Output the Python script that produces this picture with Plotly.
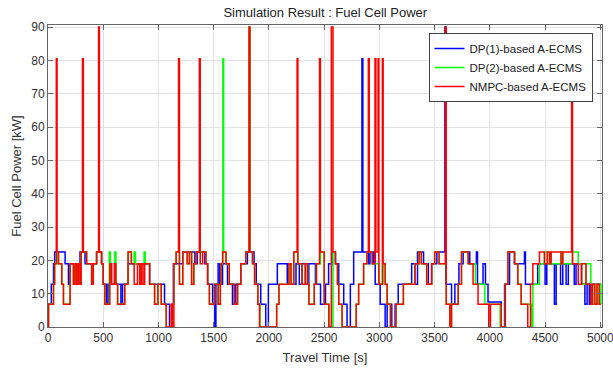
import plotly.graph_objects as go

# ---- data: step breakpoints (time [s], power [kW]) ----
dp1_t = [0, 30, 50, 60, 155, 185, 200, 290, 335, 440, 485, 500, 530, 545, 560, 575, 660, 675, 725,
         920, 1055, 1100, 1125, 1135, 1220, 1330, 1350, 1420, 1445, 1490, 1510, 1520, 1540, 1555,
         1580, 1625, 1670, 1700, 1745, 1805, 1865, 1885, 1926, 1971, 1995, 2076, 2136, 2166, 2245,
         2275, 2300, 2330, 2361, 2421, 2467, 2512, 2540, 2572, 2602, 2632, 2677, 2707, 2737, 2767,
         2842, 2850, 2900, 2915, 2940, 2950, 2962, 3007, 3052, 3070, 3112, 3142, 3170, 3292, 3320,
         3345, 3400, 3443, 3473, 3520, 3593, 3600, 3653, 3683, 3720, 3758, 3818, 3878, 3888, 3938,
         3960, 3983, 4103, 4133, 4178, 4223, 4313, 4322, 4433, 4500, 4515, 4584, 4600, 4640, 4660,
         4690, 4710, 4764, 4780, 4830, 4860, 4880, 4900, 4915, 5005]
dp1_p = [6.8, 12.8, 19, 22.5, 19, 12.8, 19, 22.5, 19, 22.5, 19, 12.8, 6.8, 12.8, 19, 12.8, 6.8, 12.8, 19,
         12.8, 6.8, 0, 6.8, 19, 22.5, 19, 22.5, 19, 12.8, 6.8, 0, 12.8, 19, 12.8,
         19, 12.8, 6.8, 12.8, 19, 22.5, 19, 12.8, 6.8, 0, 12.8, 19, 19, 12.8, 19,
         12.8, 19, 12.8, 19, 12.8, 6.8, 12.8, 19, 22.5, 19, 12.8, 6.8, 0, 12.8, 22.5,
         80.5, 22.5, 19, 22.5, 19, 22.5, 12.8, 6.8, 0, 6.8, 0, 6.8, 12.8, 19, 12.8,
         22.5, 19, 12.8, 19, 22.5, 90, 12.8, 6.8, 12.8, 19, 22.5, 19, 22.5, 12.8, 19,
         12.8, 7.5, 0, 12.8, 22.5, 19, 22.5, 12.8, 19, 12.8, 19, 6.8, 19, 12.8, 19,
         12.8, 19, 12.8, 19, 12.8, 6.8, 12.8, 6.8, 12.8, 12.8]

dp2_t = [0, 5, 50, 60, 82, 95, 125, 140, 200, 230, 245, 260, 275, 290, 300, 350, 395, 410, 440, 485,
         500, 515, 555, 565, 605, 615, 630, 695, 725, 755, 780, 792, 830, 845, 870, 880, 920, 965,
         995, 1025, 1070, 1130, 1140, 1160, 1190, 1220, 1260, 1280, 1300, 1320, 1340, 1400, 1430,
         1445, 1461, 1506, 1540, 1560, 1566, 1583, 1590, 1611, 1641, 1686, 1716, 1745, 1791, 1820,
         1828, 1851, 1870, 1900, 1920, 2070, 2091, 2181, 2200, 2225, 2262, 2300, 2330, 2350, 2362,
         2410, 2430, 2466, 2500, 2545, 2580, 2602, 2620, 2632, 2662, 2790, 2812, 2857, 2887, 2935,
         2995, 3034, 3052, 3070, 3100, 3150, 3217, 3322, 3360, 3380, 3428, 3473, 3500, 3540, 3605,
         3638, 3653, 3713, 3743, 3803, 3870, 3900, 3955, 4005, 4093, 4140, 4163, 4223, 4253, 4283,
         4343, 4380, 4389, 4449, 4494, 4520, 4540, 4554, 4644, 4660, 4748, 4800, 4830, 4870, 4914,
         4930, 4950, 4970, 4990, 5005]
dp2_p = [0, 6.8, 12.8, 19, 22.5, 19, 12.8, 6.8, 19, 12.8, 19, 12.8, 19, 12.8, 22.5, 19, 12.8, 19, 22.5, 19,
         12.8, 6.8, 22.5, 12.8, 22.5, 12.8, 6.8, 12.8, 22.5, 19, 22.5, 19, 12.8, 19, 22.5, 19, 12.8, 6.8,
         12.8, 6.8, 0, 6.8, 19, 22.5, 12.8, 22.5, 19, 22.5, 12.8, 19, 22.5, 22.5, 19,
         12.8, 6.8, 12.8, 6.8, 12.8, 19, 80.5, 22.5, 19, 12.8, 6.8, 12.8, 19, 22.5, 90,
         22.5, 19, 12.8, 6.8, 0, 6.8, 12.8, 19, 12.8, 22.5, 19, 12.8, 19, 12.8, 6.8,
         12.8, 19, 22.5, 6.8, 0, 22.5, 19, 12.8, 6.8, 0, 6.8, 12.8, 19, 22.5, 19,
         12.8, 19, 12.8, 6.8, 0, 6.8, 12.8, 19, 22.5, 19, 12.8, 19, 22.5, 19, 6.8,
         0, 6.8, 12.8, 22.5, 19, 12.8, 12.8, 6.8, 6.8, 0, 12.8, 22.5, 19, 12.8, 6.8,
         6.8, 0, 12.8, 19, 22.5, 19, 22.5, 19, 22.5, 19, 22.5, 19, 12.8, 19, 12.8, 6.8,
         12.8, 6.8, 12.8, 6.8, 6.8]

nmpc_t = [0, 5, 50, 60, 75, 82, 95, 125, 140, 200, 230, 245, 260, 275, 290, 300, 312, 320, 350, 395,
          410, 440, 458, 465, 485, 500, 515, 560, 575, 600, 615, 630, 695, 725, 755, 780, 810, 830,
          845, 860, 875, 920, 965, 995, 1025, 1070, 1115, 1125, 1140, 1160, 1182, 1190, 1220, 1260,
          1280, 1300, 1320, 1340, 1370, 1378, 1400, 1430, 1445, 1461, 1506, 1540, 1560, 1566, 1581,
          1611, 1641, 1686, 1716, 1745, 1791, 1820, 1828, 1851, 1870, 1900, 1915, 2070, 2091, 2181,
          2200, 2225, 2255, 2262, 2300, 2330, 2350, 2362, 2410, 2430, 2458, 2466, 2500, 2542, 2565,
          2580, 2602, 2620, 2632, 2662, 2790, 2812, 2857, 2887, 2900, 2908, 2935, 2960, 2968, 2988,
          2995, 3027, 3034, 3052, 3070, 3100, 3150, 3217, 3322, 3360, 3380, 3428, 3473, 3500, 3540,
          3597, 3605, 3638, 3653, 3713, 3743, 3803, 3848, 3893, 3990, 4005, 4103, 4140, 4163, 4223,
          4253, 4283, 4343, 4368, 4389, 4449, 4494, 4520, 4540, 4554, 4644, 4660, 4740, 4748, 4800,
          4830, 4870, 4914, 4930, 4950, 4970, 4990, 5005]
nmpc_p = [0, 6.8, 12.8, 19, 80.5, 22.5, 19, 12.8, 6.8, 19, 12.8, 19, 12.8, 19, 12.8, 22.5, 80.5, 22.5, 19, 12.8,
          19, 22.5, 90, 22.5, 19, 12.8, 6.8, 19, 12.8, 19, 12.8, 6.8, 12.8, 22.5, 19, 12.8, 19, 12.8,
          19, 12.8, 19, 12.8, 6.8, 12.8, 6.8, 0, 6.8, 0, 19, 22.5, 80.5, 12.8, 22.5, 19,
          22.5, 12.8, 19, 22.5, 80.5, 19, 22.5, 19, 12.8, 6.8, 12.8, 6.8, 12.8, 19, 22.5,
          19, 12.8, 6.8, 12.8, 19, 22.5, 90, 22.5, 19, 12.8, 6.8, 0, 6.8, 12.8, 19,
          12.8, 22.5, 80.5, 19, 12.8, 19, 12.8, 6.8, 12.8, 19, 80.5, 22.5, 6.8, 0, 90,
          22.5, 19, 12.8, 6.8, 0, 6.8, 12.8, 19, 22.5, 80.5, 22.5, 19, 80.5, 22.5, 80.5,
          12.8, 80.5, 19, 12.8, 6.8, 0, 6.8, 12.8, 19, 22.5, 19, 12.8, 19, 22.5, 19,
          90, 6.8, 0, 6.8, 12.8, 22.5, 19, 12.8, 6.8, 0, 6.8, 0, 12.8, 22.5, 19,
          12.8, 6.8, 0, 12.8, 19, 22.5, 19, 22.5, 19, 22.5, 19, 22.5, 80.5, 19, 12.8,
          19, 12.8, 6.8, 12.8, 6.8, 12.8, 6.8, 6.8]

series = [
    ("DP(1)-based A-ECMS", dp1_t, dp1_p, "#0000FF"),
    ("DP(2)-based A-ECMS", dp2_t, dp2_p, "#00FF00"),
    ("NMPC-based A-ECMS", nmpc_t, nmpc_p, "#FF0000"),
]

fig = go.Figure()
for name, t, p, c in series:
    fig.add_trace(go.Scatter(x=t, y=p, mode="lines", name=name,
                             line=dict(color=c, width=1.5, shape="hv")))

font_fam = "Liberation Sans, Arial, Helvetica, sans-serif"
axis_common = dict(showgrid=True, gridcolor="#e3e3e3", gridwidth=1,
                   showline=True, linecolor="#666666", linewidth=1, mirror="allticks",
                   ticks="inside", ticklen=5, tickcolor="#666666",
                   tickfont=dict(family=font_fam, size=12, color="#333333"),
                   ticklabeloverflow="allow", automargin=False,
                   zeroline=False)

fig.update_layout(
    width=613, height=371,
    margin=dict(l=48, r=10.5, t=25, b=44),
    paper_bgcolor="white", plot_bgcolor="white",
    title=dict(text="Simulation Result : Fuel Cell Power", x=0.5 + (48 - 10.5) / 2 / 613,
               xanchor="center", y=1 - 12 / 371, yanchor="middle", yref="container",
               font=dict(family=font_fam, size=13, color="#222222")),
    xaxis=dict(range=[0, 5015], tickvals=[0, 500, 1000, 1500, 2000, 2500, 3000, 3500, 4000, 4500, 5000],
               title=dict(text="Travel Time [s]", standoff=8,
                          font=dict(family=font_fam, size=13, color="#333333")),
               **axis_common),
    yaxis=dict(range=[0, 90.6], tickvals=[0, 10, 20, 30, 40, 50, 60, 70, 80, 90],
               title=dict(text="Fuel Cell Power [kW]", standoff=6,
                          font=dict(family=font_fam, size=13, color="#333333")),
               **axis_common),
    legend=dict(x=(593 - 48) / 554.5, xanchor="right", y=(327 - 33) / 302, yanchor="top",
                bgcolor="white", bordercolor="#444444", borderwidth=1,
                font=dict(family=font_fam, size=11.5, color="#222222"),
                tracegroupgap=0, itemwidth=30),
    showlegend=True,
)

fig.write_html("out.html")
